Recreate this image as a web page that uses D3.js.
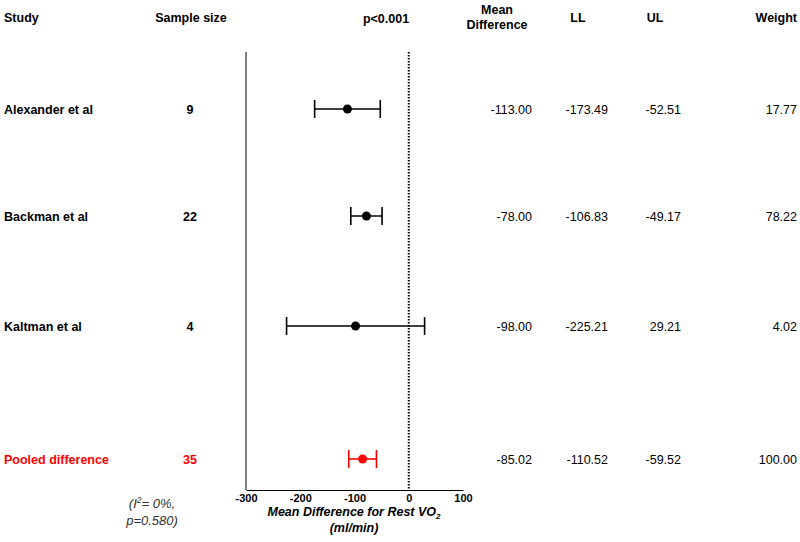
<!DOCTYPE html>
<html><head><meta charset="utf-8">
<script src="https://cdn.jsdelivr.net/npm/d3@7"></script>
<style>body{margin:0;background:#fff}svg{font-family:"Liberation Sans",Arial,sans-serif}</style>
</head><body><svg id="c" width="800" height="542"></svg>
<script>
const studies = ["Alexander et al","Backman et al","Kaltman et al","Pooled difference"];
const sampleSize = [9,22,4,35];
const meanDiff = [-113.00,-78.00,-98.00,-85.02];
const lower = [-173.49,-106.83,-225.21,-110.52];
const upper = [-52.51,-49.17,29.21,-59.52];
const weight = [17.77,78.22,4.02,100.00];
const xTicks = [-300,-200,-100,0,100];

const svg = d3.select("#c");
const x = d3.scaleLinear().domain([-300,100]).range([246,463]);
const rowY = [109,216,326,459];
const yy = d => rowY[studies.indexOf(d)];
const col = i => i===3 ? "#ff0000" : "#000";
const FS = 12.5;

// headers
const hdr = svg.append("g").attr("font-weight","bold").attr("font-size",FS);
hdr.append("text").attr("x",4).attr("y",22).text("Study");
hdr.append("text").attr("x",191).attr("y",22).attr("text-anchor","middle").text("Sample size");
hdr.append("text").attr("x",386).attr("y",23).attr("text-anchor","middle").text("p<0.001");
hdr.append("text").attr("x",497).attr("y",14).attr("text-anchor","middle").text("Mean");
hdr.append("text").attr("x",497).attr("y",29).attr("text-anchor","middle").text("Difference");
hdr.append("text").attr("x",578).attr("y",22).attr("text-anchor","middle").text("LL");
hdr.append("text").attr("x",655).attr("y",22).attr("text-anchor","middle").text("UL");
hdr.append("text").attr("x",797).attr("y",22).attr("text-anchor","end").text("Weight");

// rows
studies.forEach((s,i)=>{
  const yv = yy(s)+5;
  svg.append("text").attr("x",4).attr("y",yv).attr("font-weight","bold").attr("font-size",FS).attr("fill",col(i)).text(s);
  svg.append("text").attr("x",190).attr("y",yv).attr("text-anchor","middle").attr("font-weight","bold").attr("font-size",FS).attr("fill",col(i)).text(sampleSize[i]);
  svg.append("text").attr("x",532).attr("y",yv).attr("text-anchor","end").attr("font-size",FS).text(meanDiff[i].toFixed(2));
  svg.append("text").attr("x",608).attr("y",yv).attr("text-anchor","end").attr("font-size",FS).text(lower[i].toFixed(2));
  svg.append("text").attr("x",681).attr("y",yv).attr("text-anchor","end").attr("font-size",FS).text(upper[i].toFixed(2));
  svg.append("text").attr("x",797).attr("y",yv).attr("text-anchor","end").attr("font-size",FS).text(weight[i].toFixed(2));
});

// plot frame
svg.append("line").attr("x1",x(-300)).attr("x2",x(-300)).attr("y1",52).attr("y2",490).attr("stroke","#000").attr("stroke-width",1);
svg.append("line").attr("x1",x(0)).attr("x2",x(0)).attr("y1",52).attr("y2",490).attr("stroke","#000").attr("stroke-width",2).attr("stroke-dasharray","1.5,1.5");

const ax = svg.append("g").attr("transform","translate(0,490)")
  .call(d3.axisBottom(x).tickValues(xTicks).tickSize(0).tickPadding(4).tickFormat(d => String(d)));
ax.select(".domain").attr("stroke","#000").attr("stroke-width",1.2);
ax.selectAll("text").attr("font-weight","bold").attr("font-size",11).attr("font-family","Liberation Sans, Arial, sans-serif").attr("fill","#000");

// axis title
const t = svg.append("text").attr("x",354).attr("y",516).attr("text-anchor","middle").attr("font-weight","bold").attr("font-style","italic").attr("font-size",12.5);
t.append("tspan").text("Mean Difference for Rest VO");
t.append("tspan").attr("font-size",8).attr("dy",3).text("2");
svg.append("text").attr("x",354).attr("y",532).attr("text-anchor","middle").attr("font-weight","bold").attr("font-style","italic").attr("font-size",12.5).text("(ml/min)");

// I2 text
const h = svg.append("text").attr("x",152).attr("y",508).attr("text-anchor","middle").attr("font-style","italic").attr("font-size",13).attr("fill","#333");
h.append("tspan").text("(I");
h.append("tspan").attr("font-size",8.5).attr("dy",-5).text("2");
h.append("tspan").attr("dy",5).text("= 0%,");
svg.append("text").attr("x",152).attr("y",525).attr("text-anchor","middle").attr("font-style","italic").attr("font-size",13).attr("fill","#333").text("p=0.580)");

// CIs
studies.forEach((s,i)=>{
  const g = svg.append("g").attr("stroke",col(i)).attr("stroke-width",1.6);
  const yv = yy(s);
  g.append("line").attr("x1",x(lower[i])).attr("x2",x(upper[i])).attr("y1",yv).attr("y2",yv);
  g.append("line").attr("x1",x(lower[i])).attr("x2",x(lower[i])).attr("y1",yv-9).attr("y2",yv+9);
  g.append("line").attr("x1",x(upper[i])).attr("x2",x(upper[i])).attr("y1",yv-9).attr("y2",yv+9);
  svg.append("circle").attr("cx",x(meanDiff[i])).attr("cy",yv).attr("r",4.5).attr("fill",col(i));
});
</script></body></html>
